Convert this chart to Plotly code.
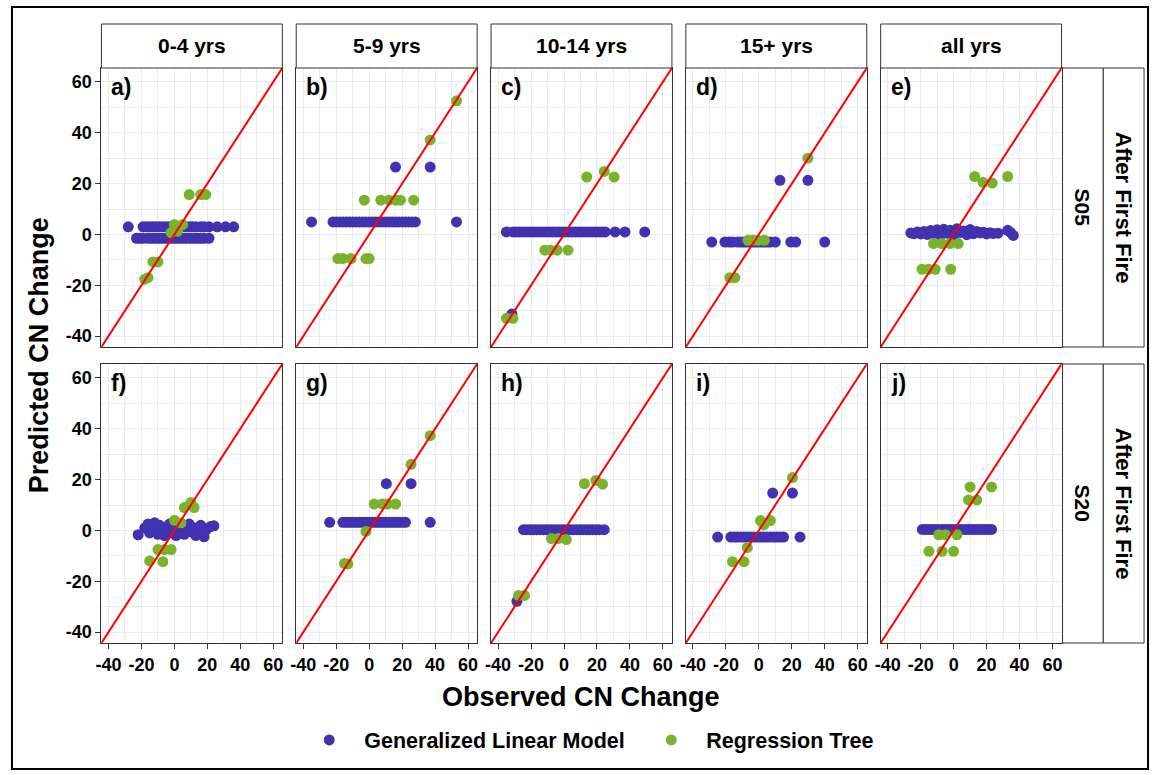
import plotly.graph_objects as go

# ---------------- data (observed, predicted) ----------------
col_labels = ["0-4 yrs", "5-9 yrs", "10-14 yrs", "15+ yrs", "all yrs"]
row_labels = ["S05", "S20"]
row_outer_label = "After First Fire"
panel_tags = ["a)", "b)", "c)", "d)", "e)", "f)", "g)", "h)", "i)", "j)"]
tick_vals = [-40, -20, 0, 20, 40, 60]
tick_labels = ["-40", "-20", "0", "20", "40", "60"]
minor_grid_vals = [-30, -10, 10, 30, 50]
axis_limits = [-44.3, 65.5]
series_names = ["Generalized Linear Model", "Regression Tree"]

# panel a
a_glm_obs = [-28, -19, -17, -15, -13, -11, -9, -7, -5, -3, -1, 1, 3, 5, 7, 9, 11, 13, 16, 18, 21, 26, 31, 36,
             -23, -21, -19, -16, -14, -12, -10, -8, -6, -4, -2, 0, 2, 4, 6, 8, 10, 12, 14, 16, 18, 21]
a_glm_pred = [3] * 24 + [-1.5] * 22
a_tree_obs = [9, 16, 19, 0, 5, -2, 2, -13, -10, -18, -16]
a_tree_pred = [15.7, 15.7, 15.7, 3.9, 3.9, 0.7, 1.3, -10.8, -10.8, -17.6, -17]

# panel b
b_glm_obs = [-35, -22, -20, -18, -16, -14, -12, -10, -8, -6, -4, -2, 0, 2, 4, 6, 8, 10, 12, 14, 16, 18, 20,
             22, 24, 26, 28, 53, 16, 37]
b_glm_pred = [4.9] * 28 + [26.5, 26.5]
b_tree_obs = [53, 37, -3, 7, 12, 16, 19, 27, -19, -16, -11, -2, 0]
b_tree_pred = [52.6, 37.2, 13.5, 13.5, 13.5, 13.5, 13.5, 13.5, -9.5, -9.5, -9.5, -9.5, -9.5]

# panel c
c_glm_obs = [-35, -31, -29, -27, -25, -23, -21, -19, -17, -15, -13, -11, -9, -7, -5, -3, -1, 1, 3, 5, 7, 9,
             11, 13, 15, 17, 19, 21, 23, 25, 31, 37, 49, -31.6]
c_glm_pred = [1] * 33 + [-31.3]
c_tree_obs = [13.8, 24.4, 30.4, -11.6, -8.2, -4.2, 2.4, -35, -31]
c_tree_pred = [22.6, 24.8, 22.6, -6.2, -6.2, -6.2, -6.2, -33, -33]

# panel d
d_glm_obs = [-28.6, -20.6, -18, -16, -13, -11, -9, -7, -5, -3, -1, 1, 3, 5, 7, 10, 19.4, 22.4, 40, 12.8, 29.8]
d_glm_pred = [-3] * 19 + [21.3, 21.3]
d_tree_obs = [29.8, -6.6, -3.6, -0.4, 3.4, -17.6, -14.6]
d_tree_pred = [30, -2.3, -2.3, -2.3, -2.3, -17, -17]

# panel e
e_glm_obs = [-26, -24, -22, -20, -18, -16, -14, -12, -10, -8, -6, -4, -2, 0, 2, 4, 6, 8, 10, 12, 14, 16, 18,
             20, 22, 24, 27, 32.8, 34.5, 36.2]
e_glm_pred = [0.6, 0.3, 1.0, 0.2, 1.2, 0.0, 1.5, 0.4, 1.8, -0.3, 2.0, 0.5, 1.6, -0.2, 2.2, 0.8, 1.4, -0.1,
              1.9, 0.3, 1.2, 0.6, 0.9, 0.2, 0.7, 0.4, 0.5, 1.6, 0.8, -0.4]
e_tree_obs = [12.8, 17.8, 23.4, 32.8, -12.2, -7.2, -2.2, 2.8, -19.2, -15.2, -11.2, -1.8]
e_tree_pred = [22.8, 20.5, 20.2, 22.8, -3.6, -3.6, -3.6, -3.6, -13.7, -13.7, -13.7, -13.7]

# panel f
f_glm_obs = [-22, -18, -16, -15, -13, -12, -10, -9, -7, -6, -4, -3, -1, 0, 1, 3, 4, 6, 7, 9, 10, 12, 13, 15,
             16, 18, 19, 22, 24]
f_glm_pred = [-1.7, 1.0, 2.5, -1.0, 1.5, 3.0, -1.5, 2.0, 0.5, -2.0, 1.5, 2.5, -1.0, 1.0, -2.0, 2.0, 0.0,
              -1.5, 1.5, 2.5, -0.5, 1.0, -2.0, 0.5, 2.0, -2.5, 0.0, 1.5, 1.8]
f_tree_obs = [10, 12, 6, 0, 4, -10, -6, -2, -15, -7]
f_tree_pred = [11, 9, 9, 4, 3, -7.5, -7.5, -7.5, -12, -12.3]

# panel g
g_glm_obs = [-24, -16, -14, -12, -10, -8, -6, -4, -2, 0, 2, 4, 6, 8, 10, 12, 14, 16, 18, 20, 22, 37, 10.4, 25.4]
g_glm_pred = [3.2] * 22 + [18.4, 18.4]
g_tree_obs = [37, 25.4, 3, 8, 11, 16, -2, -15, -13]
g_tree_pred = [37.3, 26, 10.4, 10.4, 10.4, 10.4, -0.4, -13, -13.2]

# panel h
h_glm_obs = [-24.6, -22.6, -20.6, -18.6, -16.6, -14.6, -12.6, -10.6, -8.6, -6.6, -4.6, -2.6, -0.6, 1.4, 3.4,
             5.4, 7.4, 9.4, 11.4, 13.4, 15.4, 17.4, 19.4, 21.4, 24.4, -28.6]
h_glm_pred = [0.3] * 25 + [-27.9]
h_tree_obs = [12.4, 19.4, 23.4, -7.6, -3.6, 1.4, -27.6, -24]
h_tree_pred = [18.4, 19.7, 18.2, -3.2, -3.2, -3.6, -25.6, -25.6]

# panel i
i_glm_obs = [-25, -17, -15, -13, -11, -9, -7, -5, -3, -1, 1, 3, 5, 7, 9, 11, 13, 15, 25, 8.4, 20.4]
i_glm_pred = [-2.6] * 19 + [14.7, 14.7]
i_tree_obs = [20.4, 1, 7, 3, -7, -16, -9]
i_tree_pred = [20.8, 3.9, 3.9, 2.2, -6.8, -12.3, -12.3]

# panel j
j_glm_obs = [-19, -17, -15, -13, -11, -9, -7, -5, -3, -1, 1, 3, 5, 7, 9, 11, 13, 15, 17, 19, 21, 23]
j_glm_pred = [0.4] * 22
j_tree_obs = [10, 23, 9, 14, -9, -5, 2, -15, -7, 0]
j_tree_pred = [17.1, 17.1, 12, 12, -1.7, -1.7, -1.7, -8.2, -8.2, -8.2]

panels = [
    (a_glm_obs, a_glm_pred, a_tree_obs, a_tree_pred),
    (b_glm_obs, b_glm_pred, b_tree_obs, b_tree_pred),
    (c_glm_obs, c_glm_pred, c_tree_obs, c_tree_pred),
    (d_glm_obs, d_glm_pred, d_tree_obs, d_tree_pred),
    (e_glm_obs, e_glm_pred, e_tree_obs, e_tree_pred),
    (f_glm_obs, f_glm_pred, f_tree_obs, f_tree_pred),
    (g_glm_obs, g_glm_pred, g_tree_obs, g_tree_pred),
    (h_glm_obs, h_glm_pred, h_tree_obs, h_tree_pred),
    (i_glm_obs, i_glm_pred, i_tree_obs, i_tree_pred),
    (j_glm_obs, j_glm_pred, j_tree_obs, j_tree_pred),
]

# ---------------- styling / layout ----------------
W, H = 1154, 775
FONT = "Liberation Sans, Arial, sans-serif"
GLM_COLOR = "#4032B0"
TREE_COLOR = "#7BB22C"
BORDER = "#333333"
GRID = "#EBEBEB"

col_left = [96, 292, 488, 684, 880]
col_w = 182
row_top = [68, 364]
row_h = 279
strip_top = 24
strip1_x = (1063, 1104)
strip2_x = (1104, 1145)


def px(x):
    return x / W


def py(y):
    return 1 - y / H


fig = go.Figure()
layout = {}
shapes = []
annotations = []

for idx, (go_x, go_y, tr_x, tr_y) in enumerate(panels):
    r, c = divmod(idx, 5)
    k = idx + 1
    xn = "x" if k == 1 else f"x{k}"
    yn = "y" if k == 1 else f"y{k}"
    x0, x1 = col_left[c], col_left[c] + col_w
    y0, y1 = row_top[r], row_top[r] + row_h

    fig.add_trace(go.Scatter(
        x=go_x, y=go_y, mode="markers", xaxis=xn, yaxis=yn,
        marker=dict(color=GLM_COLOR, size=11, line=dict(width=0)),
        name=series_names[0], legendgroup="glm", showlegend=(idx == 0)))
    fig.add_trace(go.Scatter(
        x=tr_x, y=tr_y, mode="markers", xaxis=xn, yaxis=yn,
        marker=dict(color=TREE_COLOR, size=11, line=dict(width=0)),
        name=series_names[1], legendgroup="tree", showlegend=(idx == 0)))

    common = dict(
        range=axis_limits, tickvals=tick_vals, ticktext=tick_labels,
        showline=True, mirror=True, linecolor=BORDER, linewidth=1,
        showgrid=True, gridcolor=GRID, gridwidth=1.3, zeroline=False,
        minor=dict(tickvals=minor_grid_vals, showgrid=True, gridcolor=GRID, gridwidth=0.7),
        tickfont=dict(family=FONT, size=18, color="black", weight="bold"),
        tickcolor=BORDER, ticklen=5, tickwidth=1,
        fixedrange=True,
    )
    layout[f"xaxis{k}"] = dict(common, domain=[px(x0), px(x1)], anchor=yn,
                               showticklabels=(r == 1), ticks="outside" if r == 1 else "")
    layout[f"yaxis{k}"] = dict(common, domain=[py(y1), py(y0)], anchor=xn,
                               showticklabels=(c == 0), ticks="outside" if c == 0 else "")

    # identity line y = x
    shapes.append(dict(type="line", xref=xn, yref=yn,
                       x0=axis_limits[0], y0=axis_limits[0], x1=axis_limits[1], y1=axis_limits[1],
                       line=dict(color="#FF0000", width=2), layer="above"))

    # panel tag
    annotations.append(dict(text=f"<b>{panel_tags[idx]}</b>", xref="paper", yref="paper",
                            x=px(x0 + 8), y=py(y0 + 4), xanchor="left", yanchor="top",
                            showarrow=False, font=dict(family=FONT, size=23, color="black")))

# top strips
for c, lab in enumerate(col_labels):
    x0, x1 = col_left[c], col_left[c] + col_w
    shapes.append(dict(type="rect", xref="paper", yref="paper",
                       x0=px(x0), x1=px(x1), y0=py(row_top[0]), y1=py(strip_top),
                       fillcolor="white", line=dict(color=BORDER, width=1)))
    annotations.append(dict(text=f"<b>{lab}</b>", xref="paper", yref="paper",
                            x=px((x0 + x1) / 2), y=py((strip_top + row_top[0]) / 2),
                            xanchor="center", yanchor="middle", showarrow=False,
                            font=dict(family=FONT, size=21, color="black")))

# right strips
for r, lab in enumerate(row_labels):
    y0, y1 = row_top[r], row_top[r] + row_h
    for (sx0, sx1), text, fs in ((strip1_x, lab, 21), (strip2_x, row_outer_label, 22)):
        shapes.append(dict(type="rect", xref="paper", yref="paper",
                           x0=px(sx0), x1=px(sx1), y0=py(y1), y1=py(y0),
                           fillcolor="white", line=dict(color=BORDER, width=1)))
        annotations.append(dict(text=f"<b>{text}</b>", xref="paper", yref="paper",
                                x=px((sx0 + sx1) / 2), y=py((y0 + y1) / 2),
                                xanchor="center", yanchor="middle", textangle=90,
                                showarrow=False, font=dict(family=FONT, size=fs, color="black")))

# axis titles
annotations.append(dict(text="<b>Observed CN Change</b>", xref="paper", yref="paper",
                        x=px((col_left[0] + col_left[4] + col_w) / 2), y=py(697),
                        xanchor="center", yanchor="middle", showarrow=False,
                        font=dict(family=FONT, size=27, color="black")))
annotations.append(dict(text="<b>Predicted CN Change</b>", xref="paper", yref="paper",
                        x=px(33), y=py((row_top[0] + row_top[1] + row_h) / 2),
                        xanchor="center", yanchor="middle", textangle=-90, showarrow=False,
                        font=dict(family=FONT, size=27, color="black")))

# outer frame
shapes.append(dict(type="rect", xref="paper", yref="paper",
                   x0=px(6), x1=px(1149), y0=py(769), y1=py(7),
                   fillcolor="rgba(0,0,0,0)", line=dict(color="black", width=2)))

fig.update_layout(
    width=W, height=H,
    margin=dict(l=0, r=0, t=0, b=0),
    paper_bgcolor="white", plot_bgcolor="white",
    shapes=shapes, annotations=annotations,
    showlegend=True,
    legend=dict(orientation="h", x=px(290), y=py(740), xanchor="left", yanchor="middle",
                font=dict(family=FONT, size=21.5, color="black", weight="bold"),
                entrywidth=267, entrywidthmode="pixels", itemwidth=60,
                bgcolor="rgba(0,0,0,0)"),
    **layout,
)

fig.write_html("out.html")
